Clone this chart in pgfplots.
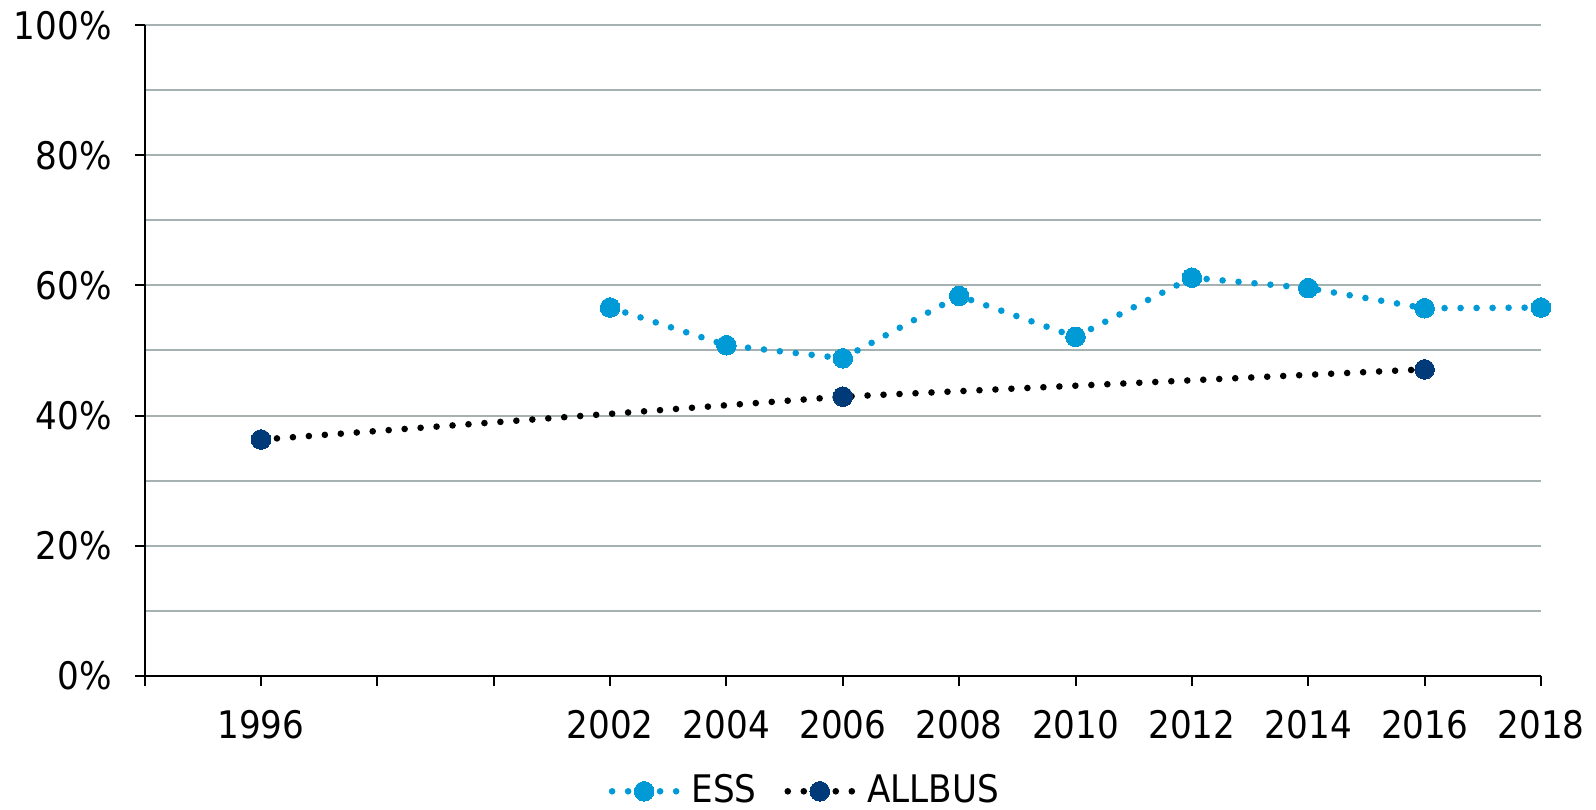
\documentclass[border=0pt]{standalone}
\usepackage{pgfplots}
\pgfplotsset{compat=1.18}
\usepackage{fontspec}
\setmainfont{DejaVu Sans Condensed}
\definecolor{essblue}{RGB}{0,154,215}
\definecolor{allbusnavy}{RGB}{0,58,120}
\definecolor{gridgray}{RGB}{166,178,178}
\begin{document}
\fontsize{19}{22}\selectfont
\begin{tikzpicture}
\begin{axis}[
  name=ax,
  scale only axis,
  width=698pt, height=325pt,
  xmin=1994, xmax=2018,
  ymin=0, ymax=100,
  axis x line=bottom, axis y line=left,
  axis line style={-, black, line width=1pt},
  xtick={1994,1996,...,2018},
  xticklabels={,1996,,,2002,2004,2006,2008,2010,2012,2014,2016,2018},
  ytick={0,20,...,100},
  yticklabels={0\%,20\%,40\%,60\%,80\%,100\%},
  minor ytick={10,30,50,70,90},
  ymajorgrids, yminorgrids,
  major grid style={gridgray, line width=1pt},
  minor grid style={gridgray, line width=1pt},
  tick align=outside,
  major tick length=5pt,
  minor tick length=0pt,
  tick style={black, line width=1pt},
  x tick label style={font=\fontsize{19}{22}\selectfont, yshift=-6pt},
  y tick label style={font=\fontsize{19}{22}\selectfont, xshift=-5pt},
  clip=false,
  legend columns=2,
  legend style={at={(axis description cs:0.4735,-0.178)}, anchor=center, draw=none, fill=none,
    font=\fontsize{19}{22}\selectfont, /tikz/every even column/.append style={column sep=12pt}},
  legend image code/.code={
    \draw[#1, mark=none] (0pt,0pt) -- (32pt,0pt);
    \draw[#1, only marks] plot coordinates {(16pt,0pt)};
    \path (36pt,0pt);
  },
]
\addplot[essblue, line width=3.3pt, line cap=round, dash pattern=on 0pt off 8pt,
  mark=*, mark size=4.9pt, mark options={solid, fill=essblue, draw=essblue, line width=0pt}]
  coordinates {(2002,56.6) (2004,50.8) (2006,48.8) (2008,58.4) (2010,52.1) (2012,61.2) (2014,59.6) (2016,56.5) (2018,56.6)};
\addlegendentry{ESS}
\addplot[black, line width=3.3pt, line cap=round, dash pattern=on 0pt off 8pt,
  mark=*, mark size=4.9pt, mark options={solid, fill=allbusnavy, draw=allbusnavy, line width=0pt}]
  coordinates {(1996,36.3) (2006,42.9) (2016,47.1)};
\addlegendentry{ALLBUS}
\end{axis}
\pgfresetboundingbox
\path[use as bounding box] ([xshift=-72.3pt,yshift=-66.7pt]ax.south west) rectangle ([xshift=27.5pt,yshift=12.7pt]ax.north east);
\end{tikzpicture}
\end{document}
